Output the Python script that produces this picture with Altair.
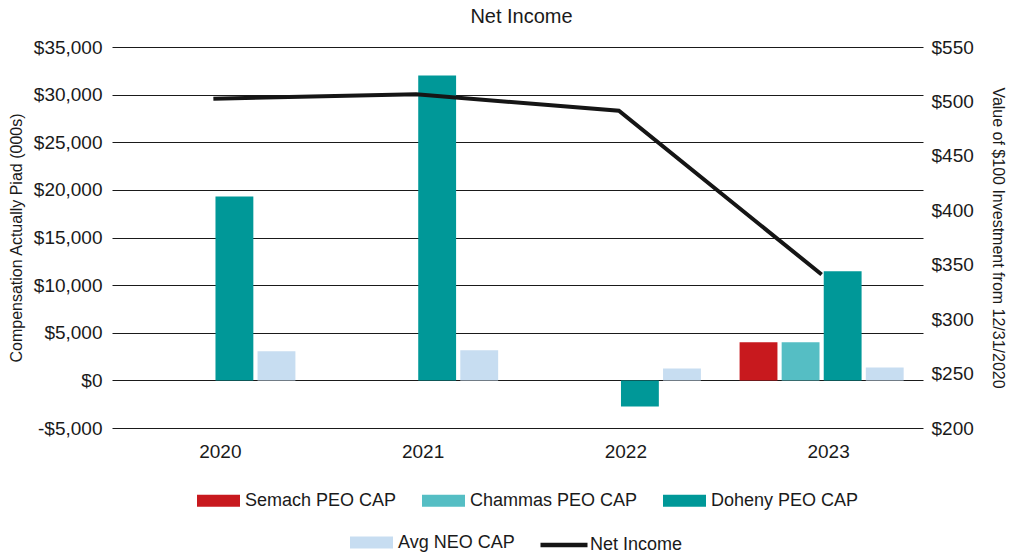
import altair as alt
import pandas as pd

# ---- data ----
years = ["2020", "2021", "2022", "2023"]
semach_cap = [None, None, None, 4000]
chammas_cap = [None, None, None, 4000]
doheny_cap = [19300, 32000, -2750, 11450]
avg_neo_cap = [3050, 3150, 1250, 1350]
net_income = [502.5, 506.5, 491.5, 341]

peo_series = ["Semach PEO CAP", "Chammas PEO CAP", "Doheny PEO CAP"]
neo_series = "Avg NEO CAP"
line_series = "Net Income"
bar_order = peo_series + [neo_series]

left_ticks = [-5000, 0, 5000, 10000, 15000, 20000, 25000, 30000, 35000]
right_ticks = [200, 250, 300, 350, 400, 450, 500, 550]

peo_colors = ["#c8191e", "#55bec4", "#009898"]
neo_color = "#c7ddf1"
line_color = "#151515"

rows = []
for name, vals in zip(peo_series, [semach_cap, chammas_cap, doheny_cap]):
    for yr, v in zip(years, vals):
        if v is not None:
            rows.append({"year": yr, "series": name, "value": v})
peo_df = pd.DataFrame(rows)
neo_df = pd.DataFrame({"year": years, "series": neo_series, "value": avg_neo_cap})
line_df = pd.DataFrame({"year": years, "series": line_series, "value": net_income})

FONT = "Liberation Sans, Arial, Helvetica, sans-serif"
TXT = "#1a1a1a"
RECT = "M-1,-0.28H1V0.28H-1Z"

x_enc = alt.X(
    "year:N",
    sort=years,
    scale=alt.Scale(domain=years, paddingInner=0.17, paddingOuter=0.085),
    axis=alt.Axis(title=None, labelAngle=0, labelFontSize=19, labelPadding=14,
                  ticks=False, domain=False, grid=False, labelOffset=7),
)
xo_enc = alt.XOffset(
    "series:N",
    scale=alt.Scale(domain=bar_order, paddingInner=0.1, paddingOuter=0.05),
)

left_axis = alt.Axis(
    title="Compensation Actually Piad (000s)",
    values=left_ticks,
    labelExpr="datum.value < 0 ? '-$' + format(-datum.value, ',') : '$' + format(datum.value, ',')",
    grid=True, gridColor="#1a1a1a", gridWidth=1, gridOpacity=1,
    domain=False, ticks=False, labelPadding=10, labelFontSize=19,
    titleFontSize=16, titleFontWeight="normal", titlePadding=9,
)
y_left = alt.Y("value:Q", scale=alt.Scale(domain=[-5000, 35000], nice=False, zero=False), axis=left_axis)

common_legend = dict(title=None, orient="none", direction="horizontal",
                     labelFontSize=18, columnPadding=25, labelLimit=400,
                     labelColor=TXT, labelFont=FONT)

legend_peo = alt.Legend(legendX=85, legendY=432, symbolType=RECT, symbolSize=1849,
                        symbolStrokeWidth=0, labelOffset=5, **common_legend)
legend_neo = alt.Legend(legendX=238, legendY=474, symbolType=RECT, symbolSize=1849,
                        symbolStrokeWidth=0, labelOffset=5, **common_legend)
legend_line = alt.Legend(legendX=426, legendY=472, symbolType="stroke", symbolSize=2209,
                         symbolStrokeWidth=4.7, labelOffset=0, **common_legend)

bars_peo = alt.Chart(peo_df).mark_bar().encode(
    x=x_enc,
    xOffset=xo_enc,
    y=y_left,
    fill=alt.Fill("series:N", scale=alt.Scale(domain=peo_series, range=peo_colors), legend=legend_peo),
)
bars_neo = alt.Chart(neo_df).mark_bar().encode(
    x=x_enc,
    xOffset=xo_enc,
    y=y_left,
    color=alt.Color("series:N", scale=alt.Scale(domain=[neo_series], range=[neo_color]),
                    legend=legend_neo),
)
line = alt.Chart(line_df).mark_line(strokeWidth=4).encode(
    x=x_enc,
    y=alt.Y("value:Q", scale=alt.Scale(domain=[200, 550], nice=False, zero=False),
            axis=alt.Axis(orient="right", title="Value of $100 Investment from 12/31/2020",
                          values=right_ticks, labelExpr="'$' + datum.value",
                          grid=False, domain=False, ticks=False, labelPadding=8,
                          labelFontSize=19, titleFontSize=16, titleFontWeight="normal",
                          titlePadding=16)),
    stroke=alt.Stroke("series:N", scale=alt.Scale(domain=[line_series], range=[line_color]),
                      legend=legend_line),
)

chart = alt.layer(alt.layer(bars_peo, bars_neo), line).resolve_scale(y="independent").properties(
    width=811,
    height=381,
    title=alt.TitleParams("Net Income", fontSize=20, fontWeight="normal", font=FONT, color=TXT,
                          anchor="middle", frame="group", baseline="alphabetic", offset=12,
                          dx=4, dy=17),
    autosize=alt.AutoSizeParams(type="none"),
    padding={"left": 104, "top": 39, "right": 83, "bottom": 126},
).configure(font=FONT).configure_view(stroke=None).configure_axis(
    labelFont=FONT, titleFont=FONT, labelColor=TXT, titleColor=TXT
)

chart.save("out.html", embed_options={"renderer": "svg", "actions": False})
